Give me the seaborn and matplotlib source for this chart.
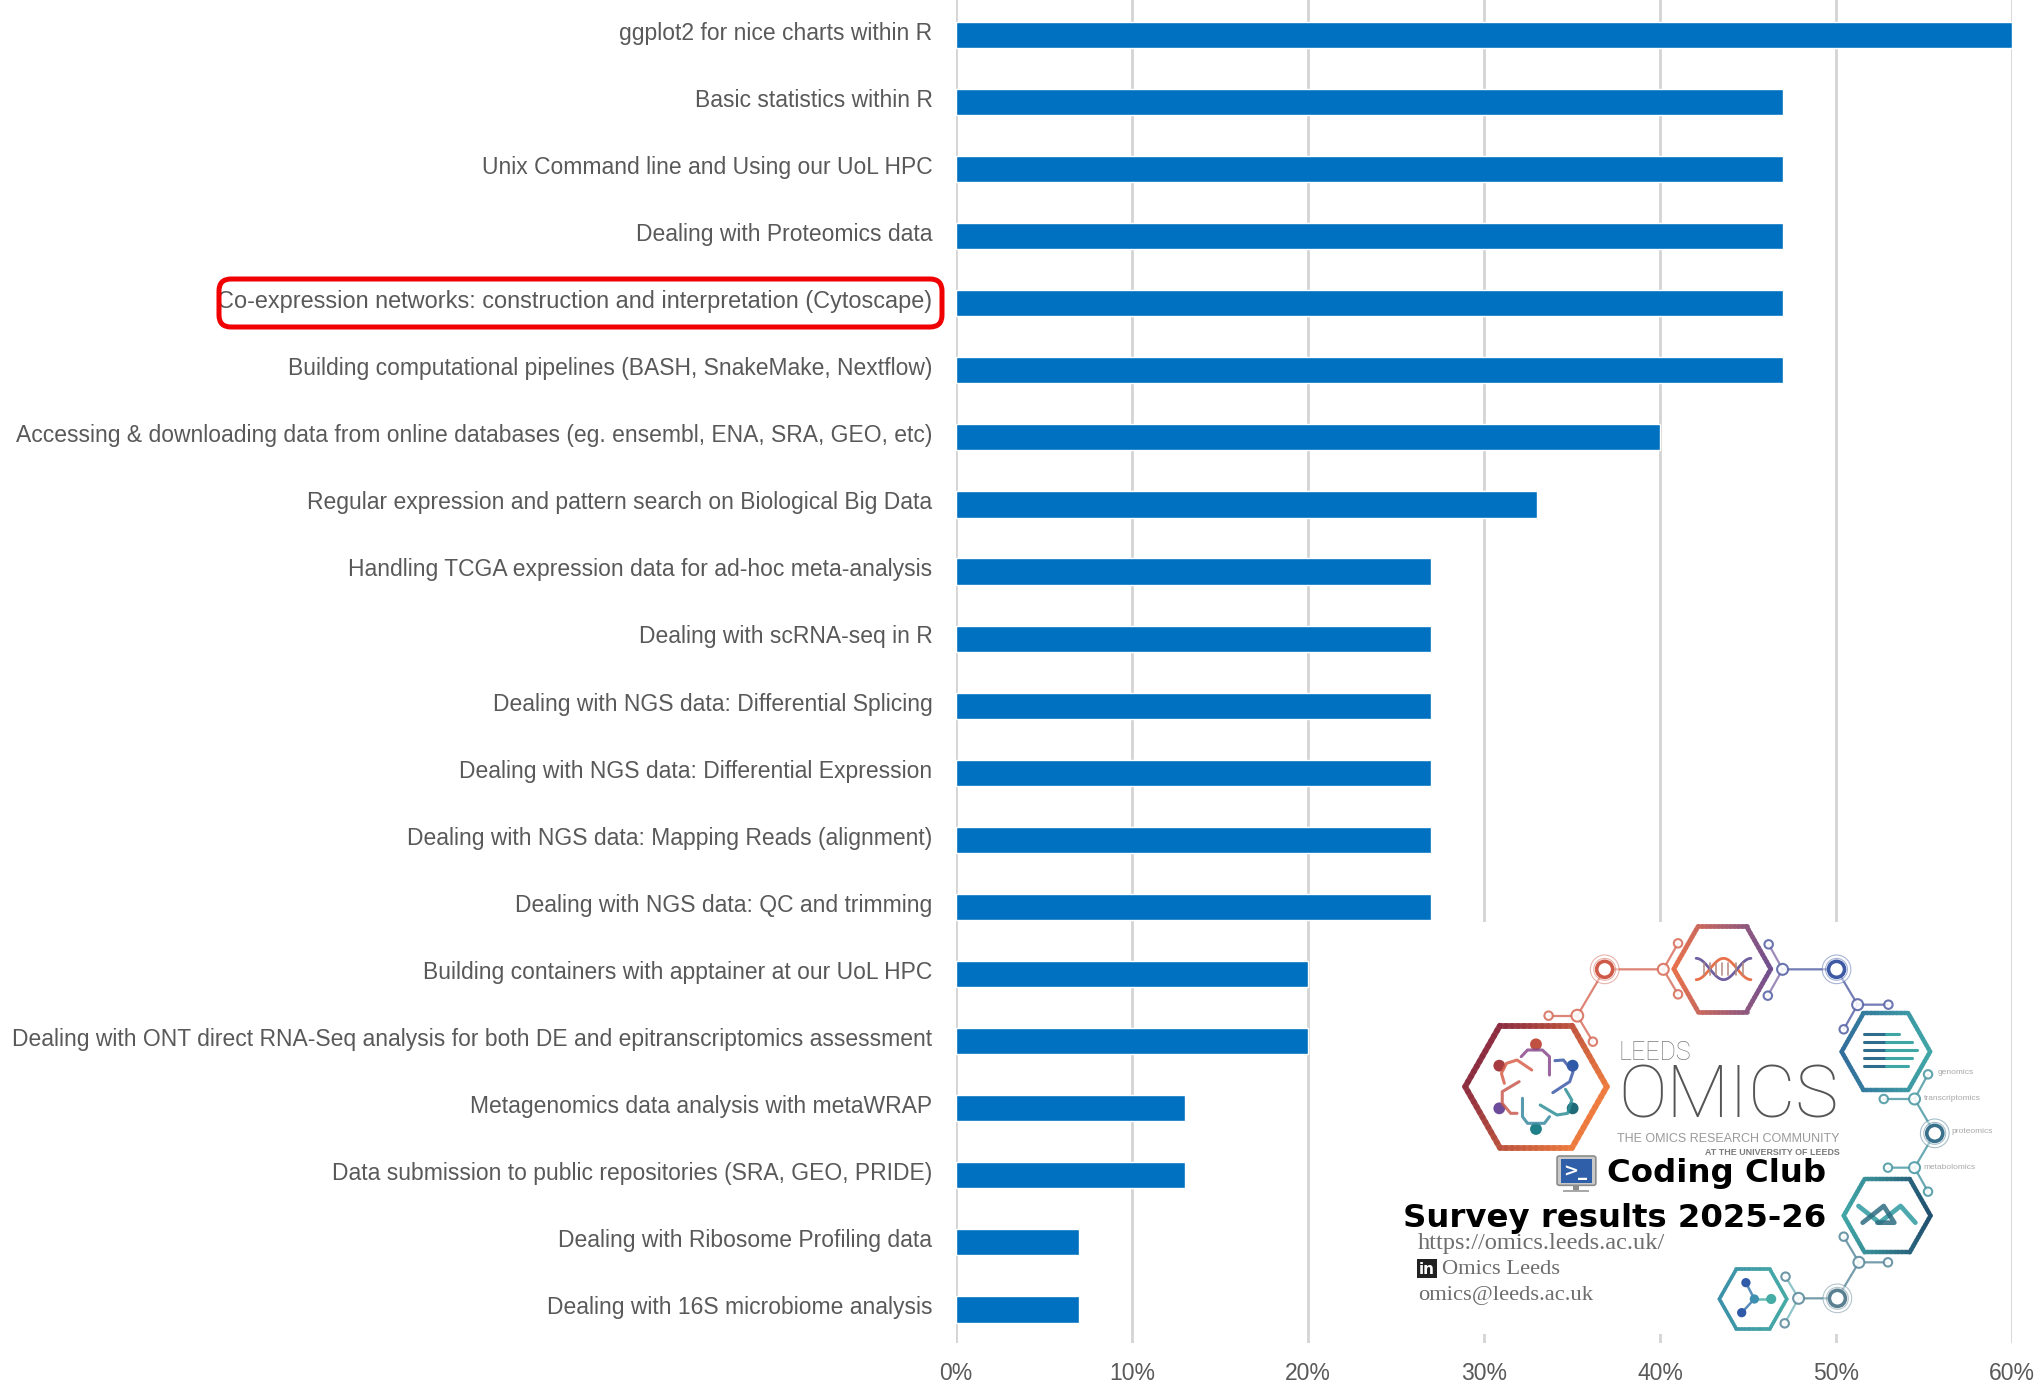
import numpy as np
import pandas as pd
import matplotlib
matplotlib.use("Agg")
import matplotlib.pyplot as plt
from matplotlib.collections import LineCollection
from matplotlib.colors import LinearSegmentedColormap
from matplotlib.patches import FancyBboxPatch, Rectangle, Ellipse
from matplotlib.transforms import ScaledTranslation
import seaborn as sns

topics = [
    "ggplot2 for nice charts within R",
    "Basic statistics within R",
    "Unix Command line and Using our UoL HPC",
    "Dealing with Proteomics data",
    "Co-expression networks: construction and interpretation (Cytoscape)",
    "Building computational pipelines (BASH, SnakeMake, Nextflow)",
    "Accessing & downloading data from online databases (eg. ensembl, ENA, SRA, GEO, etc)",
    "Regular expression and pattern search on Biological Big Data",
    "Handling TCGA expression data for ad-hoc meta-analysis",
    "Dealing with scRNA-seq in R",
    "Dealing with NGS data: Differential Splicing",
    "Dealing with NGS data: Differential Expression",
    "Dealing with NGS data: Mapping Reads (alignment)",
    "Dealing with NGS data: QC and trimming",
    "Building containers with apptainer at our UoL HPC",
    "Dealing with ONT direct RNA-Seq analysis for both DE and epitranscriptomics assessment",
    "Metagenomics data analysis with metaWRAP",
    "Data submission to public repositories (SRA, GEO, PRIDE)",
    "Dealing with Ribosome Profiling data",
    "Dealing with 16S microbiome analysis",
]
percent = [60, 47, 47, 47, 47, 47, 40, 33, 27, 27, 27, 27, 27, 27, 20, 20, 13, 13, 7, 7]
x_ticks = [0, 10, 20, 30, 40, 50, 60]
x_labels = ["0%", "10%", "20%", "30%", "40%", "50%", "60%"]
logo_omics = ["genomics", "transcriptomics", "proteomics", "metabolomics"]

W, H = 2041, 1386
sns.set_theme(style="white")
plt.rcParams["font.family"] = ["Liberation Sans", "DejaVu Sans"]

df = pd.DataFrame({"topic": topics, "percent": percent})

fig = plt.figure(figsize=(W / 100, H / 100), dpi=100, facecolor="white")
ax = fig.add_axes([956 / W, 1 - 1343 / H, (2012 - 956) / W, 1343 / H])
ax.set_axisbelow(True)
sns.barplot(data=df, y="topic", x="percent", color="#0070C0", saturation=1, width=0.39, ax=ax)
ax.set_xlim(0, 60)
ax.set_ylim(19.5, -0.52)
ax.set_xticks(x_ticks, x_labels)
ax.set_xlabel("")
ax.set_ylabel("")
ax.grid(axis="x", color="#D4D4D4", lw=2)
ax.grid(axis="y", visible=False)
sns.despine(ax=ax, left=True, bottom=True)
ax.tick_params(axis="x", length=0, pad=14, labelsize=16.5, labelcolor="#595959")
ax.tick_params(axis="y", length=0, pad=17, labelsize=16.5, labelcolor="#595959")
up = ScaledTranslation(0, 3 / 72, fig.dpi_scale_trans)
for lab in ax.get_yticklabels():
    lab.set_transform(lab.get_transform() + up)
    if lab.get_text().startswith("Co-expression"):
        lab.set_fontsize(16.9)

# red highlight box, page pixels
page = fig.add_axes([0, 0, 1, 1], facecolor="none")
page.set_xlim(0, W)
page.set_ylim(H, 0)
page.axis("off")
page.add_patch(FancyBboxPatch((219, 279), 723, 48, boxstyle="round,pad=0,rounding_size=12",
                              fc="none", ec="#F00000", lw=3.6))
page.add_patch(Rectangle((1392, 922), 596, 412, fc="white", ec="none"))

# logo, in its own space: x units 1/2.372 px, y units 1/3 px
lg = fig.add_axes([1380 / W, 0, 661 / W, 486 / H], facecolor="none")
lg.set_xlim(0, 1568)
lg.set_ylim(1458, 0)
lg.axis("off")
ASPECT = 3 / 2.372


def dot(x, y, r, **kw):
    lg.add_patch(Ellipse((x, y), 2 * r, 2 * r * ASPECT, **kw))


def grad_hex(cx, cy, r, h, c1, c2, lw, angle=0):
    cmap = LinearSegmentedColormap.from_list("h", [c1, c2])
    off = r - h * 0.45
    verts = np.array([[cx - r, cy], [cx - off, cy - h], [cx + off, cy - h], [cx + r, cy],
                      [cx + off, cy + h], [cx - off, cy + h], [cx - r, cy]])
    pts = []
    for a, b in zip(verts[:-1], verts[1:]):
        for t in np.linspace(0, 1, 12, endpoint=False):
            pts.append(a + (b - a) * t)
    pts.append(verts[-1])
    pts = np.array(pts)
    segs = np.stack([pts[:-1], pts[1:]], axis=1)
    d = np.array([np.cos(angle), np.sin(angle)])
    v = (pts[:-1] - [cx, cy]) @ d
    v = (v - v.min()) / (v.max() - v.min())
    lg.add_collection(LineCollection(segs, colors=cmap(v), lw=lw, capstyle="round", alpha=0.9))


def wire(points, color, lw=1.6):
    p = np.array(points)
    lg.plot(p[:, 0], p[:, 1], color=color, lw=lw, solid_capstyle="round", alpha=0.85)


def node(x, y, r, color, lw=1.5):
    dot(x, y, r, fc="white", ec=color, lw=lw, alpha=0.9, zorder=3)


def ring(x, y, color):
    dot(x, y, 34, fc="white", ec=color, lw=0.8, alpha=0.45, zorder=3)
    dot(x, y, 26, fc="none", ec=color, lw=0.8, alpha=0.45, zorder=3)
    dot(x, y, 19, fc="white", ec=color, lw=2.6, zorder=3)


grad_hex(370, 560, 168, 183, "#8B2A3E", "#EE7A3C", 4.2, angle=0.4)
grad_hex(812, 207, 115, 128, "#E8704A", "#6F4E8E", 3.4)
grad_hex(1200, 455, 105, 115, "#2F6C9A", "#3FA6A6", 3.2)
grad_hex(1203, 947, 103, 110, "#3FA6A6", "#1F4E6E", 3.2)
grad_hex(885, 1197, 80, 90, "#3A8FA8", "#45ABA5", 2.6)

red = "#D8705E"
wire([(400, 347), (468, 347)], red)
wire([(505, 425), (468, 347), (533, 208), (672, 208)], red)
wire([(707, 130), (672, 208), (707, 283)], red)
for x, y, r in [(400, 347, 10), (468, 347, 14), (505, 425, 10), (672, 208, 13), (707, 130, 10), (707, 283, 10)]:
    node(x, y, r, red)
ring(533, 208, "#CF5A48")

blu = "#5B66A8"
wire([(922, 133), (955, 208), (920, 287)], "#8D77AE")
wire([(955, 208), (1083, 208), (1133, 314), (1206, 314)], blu)
wire([(1133, 314), (1100, 388)], blu)
for x, y, r in [(922, 133, 10), (955, 208, 13), (920, 287, 10), (1133, 314, 13), (1206, 314, 10), (1100, 388, 10)]:
    node(x, y, r, blu)
ring(1083, 208, "#3F5AA5")

tl = "#4F9AA5"
wire([(1300, 523), (1268, 597), (1195, 597)], tl)
wire([(1268, 597), (1316, 700), (1268, 803), (1205, 803)], tl)
wire([(1268, 803), (1300, 875)], tl)
for x, y, r in [(1300, 523, 10), (1268, 597, 13), (1195, 597, 10), (1268, 803, 13), (1205, 803, 10), (1300, 875, 10)]:
    node(x, y, r, tl)
ring(1316, 700, "#39708C")

sl = "#5E8C9E"
wire([(1100, 1010), (1136, 1087), (1205, 1087)], sl)
wire([(1136, 1087), (1085, 1195), (993, 1195)], sl)
wire([(962, 1130), (993, 1195), (960, 1270)], "#7DBBC0")
for x, y, r in [(1100, 1010, 10), (1136, 1087, 13), (1205, 1087, 10), (993, 1195, 13), (962, 1130, 10), (960, 1270, 10)]:
    node(x, y, r, sl)
ring(1085, 1195, "#5A7F90")

# people in the big hexagon
people = [(370, 433, "#C0503F"), (283, 497, "#A63C40"), (457, 497, "#2F5AA8"),
          (283, 625, "#6B4B9A"), (457, 625, "#1F6A78"), (370, 687, "#1F8088")]
for x, y, c in people:
    dot(x, y, 14, fc=c, ec="none")
wire([(335, 470), (350, 450), (385, 450), (402, 470), (402, 525)], "#8A4A8E", lw=2.2)
wire([(360, 510), (325, 480), (300, 490), (288, 520), (295, 550)], "#D8604C", lw=2.2)
wire([(330, 545), (290, 575), (290, 610), (310, 640), (325, 640)], "#C85A50", lw=2.2)
wire([(338, 595), (338, 650), (350, 670), (390, 670), (402, 650)], "#3C8AA0", lw=2.2)
wire([(380, 615), (420, 645), (445, 640), (455, 600), (440, 568)], "#2F8F98", lw=2.2)
wire([(410, 578), (450, 545), (458, 515), (435, 480), (415, 482)], "#3C5AA8", lw=2.2)

# dna
t = np.linspace(0, np.pi * 2, 40)
lg.plot(750 + t / (2 * np.pi) * 130, 207 + 32 * np.cos(t), color="#E8704A", lw=2)
lg.plot(750 + t / (2 * np.pi) * 130, 207 - 32 * np.cos(t), color="#6F5FA0", lw=2)
for x in [768, 783, 797, 812, 826, 845, 862]:
    wire([(x, 190), (x, 224)], "#B08A80", lw=1.3)

for y, x2 in zip([402, 426, 451, 475, 498], [1230, 1262, 1275, 1262, 1252]):
    lg.plot([1148, 1200], [y, y], color="#2F6C8C", lw=2.2)
    lg.plot([1200, x2], [y, y], color="#3FA6A6", lw=2.2)

wire([(1135, 918), (1185, 968), (1235, 918), (1270, 968)], "#2E9AA0", lw=3.4)
wire([(1145, 968), (1195, 918), (1220, 968), (1180, 968)], "#2C6C80", lw=3.4)

wire([(868, 1148), (888, 1197), (858, 1238)], "#3F78B0", lw=1.8)
wire([(888, 1197), (928, 1197)], "#4FB0AA", lw=1.8)
for x, y, c, r in [(868, 1148, "#2F5AA8", 11), (888, 1197, "#3F8FB0", 11), (928, 1197, "#45ABA5", 12), (858, 1238, "#2F5AA8", 11)]:
    dot(x, y, r, fc=c, ec="none", zorder=3)

# logo lettering
lg.text(565, 458, "LEEDS", family="Roboto", weight="light", fontsize=18, color="#7A7A7A", va="center", ha="left")
lg.text(565, 592, "OMICS", family="Roboto", weight="light", fontsize=52.5, color="#555555", va="center", ha="left")
lg.text(1090, 718, "THE OMICS RESEARCH COMMUNITY", family="Liberation Sans", fontsize=9, color="#9A9A9A", va="center", ha="right")
lg.text(1090, 758, "AT THE UNIVERSITY OF LEEDS", family="Liberation Sans", fontsize=6.4, color="#7A7A7A", weight="bold", va="center", ha="right")
for name, x, y in zip(logo_omics, [1322, 1290, 1356, 1290], [518, 597, 695, 803]):
    lg.text(x, y, name, family="Liberation Sans", fontsize=6, color="#A8A8A8", va="center", ha="left")

# coding club titles
lg.text(1058, 821, "Coding Club", family="DejaVu Sans", weight="bold", fontsize=23.3, color="black", va="center", ha="right")
lg.text(1058, 956, "Survey results 2025-26", family="DejaVu Sans", weight="bold", fontsize=23.3, color="black", va="center", ha="right")

# terminal icon
lg.add_patch(FancyBboxPatch((420, 768), 92, 88, boxstyle="round,pad=0,rounding_size=6", fc="#C8C8C8", ec="#8C8C8C", lw=1.2))
lg.add_patch(Rectangle((429, 778), 75, 70, fc="#2F5FA8", ec="none"))
lg.text(435, 812, ">_", family="DejaVu Sans", weight="bold", fontsize=13, color="white", va="center", ha="left")
lg.add_patch(Rectangle((458, 856), 14, 14, fc="#8C8C8C", ec="none"))
lg.add_patch(Rectangle((435, 870), 60, 6, fc="#A8A8A8", ec="none"))

# contact block
gr = "#6E6E6E"
lg.text(90, 1030, "https://omics.leeds.ac.uk/", family="Liberation Serif", fontsize=17.6, color=gr, va="center", ha="left")
lg.text(147, 1107, "Omics Leeds", family="Liberation Serif", fontsize=16.2, color=gr, va="center", ha="left")
lg.text(90, 1187, "omics@leeds.ac.uk", family="Liberation Serif", fontsize=16.2, color=gr, va="center", ha="left")
lg.add_patch(Rectangle((87, 1077), 48, 58, fc="#222222", ec="none"))
lg.text(111, 1108, "in", family="DejaVu Sans", weight="bold", fontsize=11, color="white", va="center", ha="center")

fig.savefig("out.png", dpi=100)
